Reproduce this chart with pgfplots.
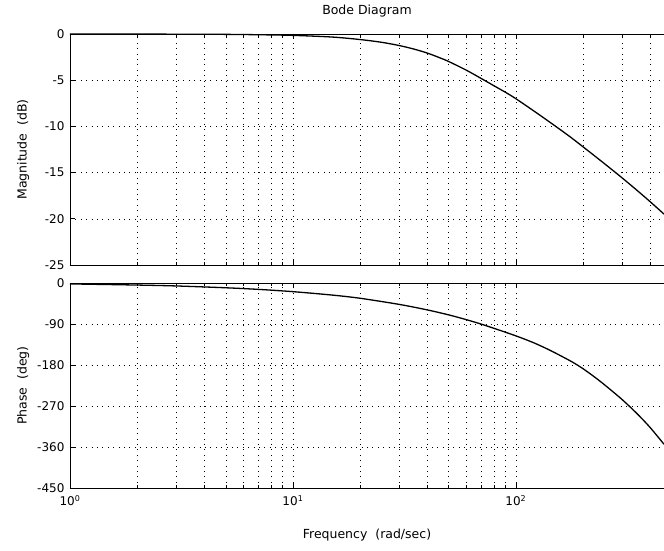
\documentclass[border=0pt]{standalone}
\usepackage{fontspec}
\setmainfont{DejaVu Sans}
\usepackage{pgfplots}
\pgfplotsset{compat=1.18}

\pgfplotsset{
  bode/.style={
    scale only axis,
    width=594pt,
    xmin=1, xmax=462,
    axis x line*=box, axis y line*=left,
    axis line style={black, line width=0.8pt},
    tick align=inside,
    major tick length=5pt, minor tick length=3pt,
    tick style={black, line width=0.6pt},
    grid=both,
    grid style={black, line width=0.55pt, dash pattern=on 0.8pt off 4.6pt},
    minor y tick num=0,
    tick label style={font=\fontsize{12}{14}\selectfont},
    yticklabel style={xshift=-2pt},
    label style={font=\fontsize{12.5}{15}\selectfont},
  },
  curve/.style={black, no marks, line width=1.3pt, smooth},
}

\begin{document}
\begin{tikzpicture}
% magnitude
\begin{semilogxaxis}[bode,
    at={(70pt,286pt)}, anchor=south west, height=231pt,
    ymin=-25, ymax=0,
    ytick={-25,-20,-15,-10,-5,0},
    yticklabels={-25,-20,-15,-10,-5,0},
    xticklabels={},
    title={Bode Diagram},
    title style={font=\fontsize{12.5}{15}\selectfont, at={(axis description cs:0.5,1.074)}, anchor=center},
    ylabel={Magnitude\ \ (dB)},
    ylabel style={at={(axis description cs:-0.079,0.5)}, anchor=center},
]
\addplot[curve] coordinates {
  (1,0) (2,-0.01) (3,-0.02) (5,-0.04) (7,-0.08) (10,-0.15) (15,-0.33)
  (20,-0.6) (25,-0.9) (30,-1.25) (35,-1.64) (40,-2.06) (45,-2.52) (50,-2.98)
  (60,-3.92) (70,-4.82) (80,-5.62) (90,-6.32) (100,-7.0) (125,-8.6) (150,-9.95)
  (175,-11.12) (200,-12.2) (250,-14.04) (300,-15.58) (350,-16.93)
  (400,-18.14) (462,-19.49)
};
\end{semilogxaxis}

% phase
\begin{semilogxaxis}[bode,
    at={(70pt,63pt)}, anchor=south west, height=205pt,
    ymin=-450, ymax=0,
    ytick={-450,-360,-270,-180,-90,0},
    yticklabels={-450,-360,-270,-180,-90,0},
    xtick={1,10,100},
    xticklabels={10\textsuperscript{0},10\textsuperscript{1},10\textsuperscript{2}},
    xticklabel style={yshift=-4pt},
    xlabel={Frequency\ \ (rad/sec)},
    xlabel style={at={(axis description cs:0.5,-0.229)}, anchor=center},
    ylabel={Phase\ \ (deg)},
    ylabel style={at={(axis description cs:-0.079,0.5)}, anchor=center},
]
\addplot[curve] coordinates {
  (1,-2) (2,-4.5) (3,-6.5) (5,-10.5) (7,-14) (10,-19) (15,-26.5) (20,-33.5)
  (30,-47) (40,-59) (50,-70) (60,-80.5) (70,-90.3) (80,-99.7) (100,-116)
  (120,-131) (140,-146) (160,-160.5) (180,-174) (200,-188) (225,-206)
  (250,-223.5) (300,-256) (350,-287) (400,-317) (462,-354)
};
\end{semilogxaxis}

\pgfresetboundingbox
\path[use as bounding box] (0pt,0pt) rectangle (664pt,551pt);
\end{tikzpicture}
\end{document}
